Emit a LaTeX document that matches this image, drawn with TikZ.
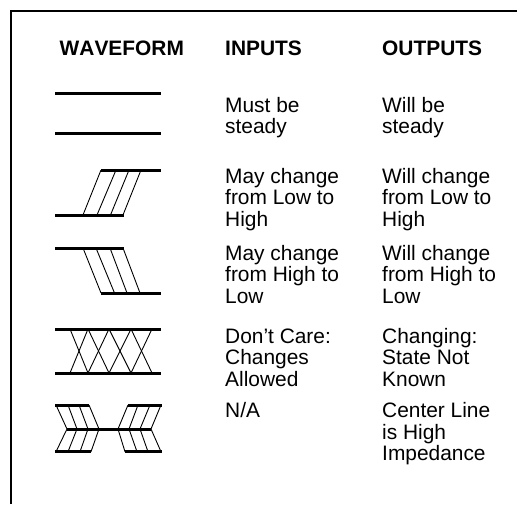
\documentclass[tikz,border=0pt]{standalone}
\usepackage{fontspec}
\setmainfont{Liberation Sans}
\newfontfamily\headfont[Kerning=Off,BoldFont={Liberation Sans Bold}]{Liberation Sans}
\tikzset{
  x=1pt,y=-1pt,
  frameline/.style={line width=1.9pt,line cap=butt,line join=miter},
  levelline/.style={line width=3pt,line cap=butt},
  diagline/.style={line width=0.9pt},
  head/.style={anchor=base west,inner sep=0pt,font=\headfont\bfseries\fontsize{20.9}{21}\selectfont},
  body/.style={anchor=base west,inner sep=0pt,font=\fontsize{20.9}{21.5}\selectfont},
}
\newcommand{\txtlines}[1]{\begin{tabular}[t]{@{}l@{}}#1\end{tabular}}
\begin{document}
\begin{tikzpicture}
\useasboundingbox (0,0) rectangle (517,504);
\coordinate (fa) at (11,504); \coordinate (fb) at (11,11); \coordinate (fc) at (517,11);
\draw[frameline] (fa) -- (fb) -- (fc);
\node[head] (hw) at (59.5,55) {WAVEFORM};
\node[head] (hi) at (225,55) {INPUTS};
\node[head] (ho) at (382,55) {OUTPUTS};
% steady
\draw[levelline] (55,93) -- (161,93);
\draw[levelline] (55,133) -- (161,133);
% rising
\foreach \a/\b in {83/101,97/116,110.5/129,123/141} \draw[diagline] (\a,215) -- (\b,170);
\draw[levelline] (101,170) -- (161,170);
\draw[levelline] (55,215) -- (124,215);
% falling
\foreach \a/\b in {83/101,96/114.5,110/127,123/140} \draw[diagline] (\a,248) -- (\b,293);
\draw[levelline] (55,248) -- (124,248);
\draw[levelline] (101,293) -- (161,293);
% crossing
\foreach \a/\b in {70/88,88/70,88/109,109/88,109/131,131/109,131/152,152/131} \draw[diagline] (\a,329) -- (\b,373);
\draw[levelline] (55,329) -- (161,329);
\draw[levelline] (55,373) -- (161,373);
% high impedance
\foreach \a/\b in {56/67,68/77,79/88,89/99} {\draw[diagline] (\a,405) -- (\b,429);}
\foreach \a/\b in {56/67,68/77,80/88,91/99} {\draw[diagline] (\a,451.7) -- (\b,429);}
\foreach \a/\b in {128/118,138/129,150/140,161/151} {\draw[diagline] (\a,405) -- (\b,429);}
\foreach \a/\b in {125/118,137/129,148/140,161/151} {\draw[diagline] (\a,451.7) -- (\b,429);}
\draw[levelline] (55,405) -- (89,405);
\draw[levelline] (128,405) -- (162,405);
\draw[levelline] (55,451.7) -- (91,451.7);
\draw[levelline] (125,451.7) -- (162,451.7);
\draw[levelline] (66.7,429) -- (150.5,429);
% text
\node[body] (i1) at (225,112) {\txtlines{Must be\\steady}};
\node[body] (o1) at (382,112) {\txtlines{Will be\\steady}};
\node[body] (i2) at (225,183) {\txtlines{May change\\from Low to\\High}};
\node[body] (o2) at (382,183) {\txtlines{Will change\\from Low to\\High}};
\node[body] (i3) at (225,260) {\txtlines{May change\\from High to\\Low}};
\node[body] (o3) at (382,260) {\txtlines{Will change\\from High to\\Low}};
\node[body] (i4) at (225,343.3) {\txtlines{Don’t Care:\\Changes\\Allowed}};
\node[body] (o4) at (382,343.3) {\txtlines{Changing:\\State Not\\Known}};
\node[body] (i5) at (225,417.7) {N/A};
\node[body] (o5) at (382,417.7) {\txtlines{Center Line\\is High\\Impedance}};
\end{tikzpicture}
\end{document}
